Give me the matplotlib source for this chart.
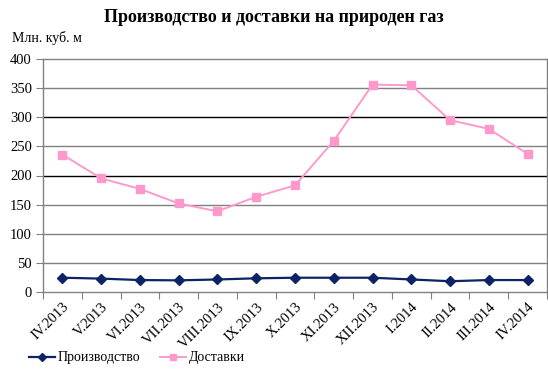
import matplotlib
matplotlib.use("Agg")
import matplotlib.pyplot as plt
from matplotlib.lines import Line2D
import numpy as np

categories = ["IV.2013", "V.2013", "VI.2013", "VII.2013", "VIII.2013", "IX.2013", "X.2013",
              "XI.2013", "XII.2013", "I.2014", "II.2014", "III.2014", "IV.2014"]
production = [24.5, 23, 20.5, 20, 21.5, 23.5, 24.5, 24.5, 24.5, 21.5, 18.5, 20.5, 20.5]
deliveries = [236, 195, 177, 152, 138.5, 163.5, 183, 259.5, 356, 355, 295, 280, 237]
yticks = [0, 50, 100, 150, 200, 250, 300, 350, 400]

plt.rcParams['font.family'] = ['Liberation Serif', 'DejaVu Serif']

W, H = 548, 376
fig = plt.figure(figsize=(W/100, H/100), dpi=100)
ax = fig.add_axes([43/W, (H-292)/H, 504/W, 233/H])

x = np.arange(len(categories))
navy = "#0C2366"
pink = "#FF99CC"

for yv in yticks[1:-1]:
    col = "black" if yv in (200, 300) else "#808080"
    ax.axhline(yv, color=col, lw=1.0, zorder=1)

ax.plot(x, production, color=navy, lw=1.6, marker="D", ms=5.5, zorder=3)
ax.plot(x, deliveries, color=pink, lw=1.4, marker="s", ms=6, zorder=3)

ax.set_xlim(-0.5, len(categories) - 0.5)
ax.set_ylim(0, 400)
ax.set_yticks(yticks)
ax.set_yticklabels([str(v) for v in yticks], fontsize=10.5)
ax.set_xticks(np.arange(-0.5, len(categories), 1.0))
ax.set_xticklabels([])
ax.set_xticks(x, minor=True)
ax.set_xticklabels(categories, minor=True, rotation=45, ha="right", rotation_mode="anchor", fontsize=10.5)
ax.tick_params(axis="x", which="minor", length=0, pad=6)
ax.tick_params(axis="x", which="major", length=5, direction="out", color="#808080")
ax.tick_params(axis="y", length=5, direction="out", color="#808080", pad=3)
for s in ax.spines.values():
    s.set_color("#808080")
    s.set_linewidth(1.0)

fig.text(274/W, 1 - 18/H, "Производство и доставки на природен газ", ha="center", va="center",
         fontsize=13, fontweight="bold")
fig.text(12/W, 1 - 38/H, "Млн. куб. м", ha="left", va="center", fontsize=10)

handles = [Line2D([], [], color=navy, lw=1.6, marker="D", ms=4),
           Line2D([], [], color=pink, lw=1.4, marker="s", ms=5)]
fig.legend(handles, ["Производство", "Доставки"], loc="center left",
           bbox_to_anchor=(16/W, 1 - 358/H), ncol=2, frameon=False, fontsize=10,
           handlelength=1.9, handletextpad=0.2, columnspacing=1.4)

fig.savefig("out.png", dpi=100)
